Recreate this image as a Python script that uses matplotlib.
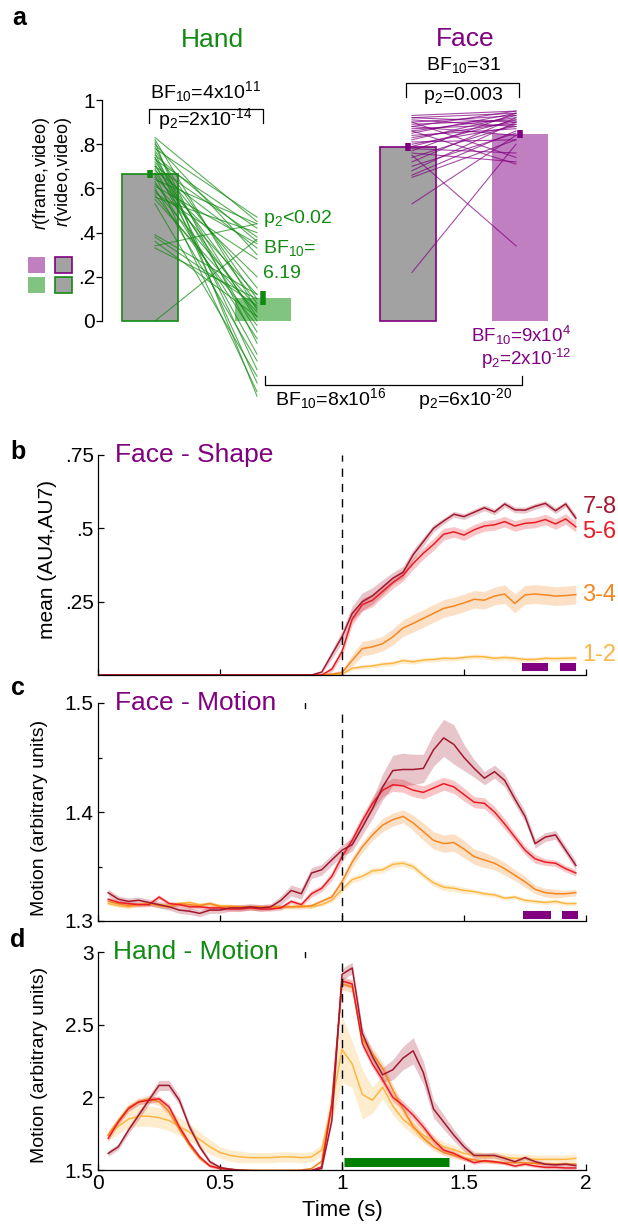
import numpy as np
import matplotlib
matplotlib.use("Agg")
import matplotlib.pyplot as plt
from matplotlib.patches import Rectangle

plt.rcParams['font.family'] = ['Liberation Sans', 'DejaVu Sans']
plt.rcParams['mathtext.fontset'] = 'custom'
plt.rcParams['mathtext.rm'] = 'Liberation Sans'
plt.rcParams['mathtext.it'] = 'Liberation Sans:italic'
plt.rcParams['mathtext.default'] = 'regular'

# ---------------- data: panel a ----------------
bar_means = [0.665, 0.104, 0.787, 0.846]   # hand frame, hand video, face frame, face video
bar_sem = [0.018, 0.03, 0.018, 0.018]
hand_frame = [0.83, 0.82, 0.81, 0.80, 0.79, 0.78, 0.77, 0.76, 0.75, 0.74, 0.74, 0.73, 0.72,
              0.71, 0.70, 0.70, 0.69, 0.68, 0.67, 0.66, 0.65, 0.64, 0.63, 0.62, 0.61, 0.60,
              0.59, 0.58, 0.57, 0.56, 0.55, 0.53, 0.39, 0.38, 0.36, 0.34, 0.33, 0.00]
hand_video = [0.45, 0.05, -0.34, 0.30, -0.10, 0.47, 0.10, -0.22, 0.36, 0.0, -0.28, 0.42, 0.15,
              -0.05, 0.38, 0.08, -0.15, 0.33, 0.02, -0.32, 0.20, 0.44, -0.08, 0.12, 0.35, -0.18,
              0.06, 0.28, -0.02, 0.40, 0.04, -0.25, 0.12, 0.07, 0.02, 0.44, 0.10, 0.37]
face_frame = [0.93, 0.92, 0.92, 0.91, 0.90, 0.90, 0.89, 0.88, 0.88, 0.87, 0.86, 0.86, 0.85, 0.84,
              0.83, 0.82, 0.81, 0.80, 0.79, 0.78, 0.77, 0.76, 0.75, 0.74, 0.72, 0.70, 0.68, 0.66,
              0.65, 0.53, 0.22]
face_video = [0.95, 0.90, 0.94, 0.88, 0.93, 0.74, 0.91, 0.95, 0.84, 0.89, 0.92, 0.71, 0.94, 0.87,
              0.90, 0.93, 0.82, 0.88, 0.91, 0.76, 0.94, 0.72, 0.34, 0.89, 0.92, 0.85, 0.90, 0.86,
              0.82, 0.84, 0.80]

# ---------------- data: panels b-d ----------------
levels = ['1-2', '3-4', '5-6', '7-8']
t_b = np.arange(0, 48) / 24
t_cd = np.arange(1, 48) / 24

shape_78 = [0.0] * 22 + [0.01, 0.07, 0.13, 0.21, 0.25, 0.27, 0.30, 0.33, 0.35, 0.41, 0.455, 0.50, 0.525,
                         0.548, 0.54, 0.555, 0.57, 0.556, 0.583, 0.563, 0.562, 0.575, 0.585, 0.56, 0.583, 0.535]
shape_56 = [0.0] * 22 + [0.0, 0.02, 0.08, 0.19, 0.24, 0.255, 0.285, 0.315, 0.34, 0.38, 0.415, 0.445, 0.48,
                         0.488, 0.477, 0.495, 0.508, 0.512, 0.523, 0.508, 0.517, 0.52, 0.53, 0.515, 0.532, 0.505]
shape_34 = [0.0] * 22 + [0.0, 0.003, 0.008, 0.05, 0.09, 0.096, 0.107, 0.13, 0.16, 0.176, 0.193, 0.21, 0.227,
                         0.235, 0.246, 0.258, 0.255, 0.269, 0.276, 0.244, 0.273, 0.276, 0.273, 0.269, 0.271, 0.274]
shape_12 = [0.0] * 22 + [0.0, 0.0, 0.003, 0.023, 0.028, 0.031, 0.037, 0.04, 0.049, 0.045, 0.051, 0.053, 0.057,
                         0.056, 0.06, 0.063, 0.062, 0.057, 0.06, 0.057, 0.053, 0.053, 0.057, 0.056, 0.057, 0.058]
shape_sem_78 = [0.0] * 22 + [0.005, 0.015, 0.02, 0.025, 0.03, 0.028, 0.025, 0.02, 0.02, 0.018, 0.015, 0.012, 0.01,
                             0.01, 0.01, 0.01, 0.01, 0.01, 0.01, 0.01, 0.01, 0.01, 0.01, 0.01, 0.01, 0.012]
shape_sem_56 = [0.0] * 22 + [0.003, 0.01, 0.015, 0.02, 0.022, 0.022, 0.02, 0.02, 0.02, 0.02, 0.02, 0.02, 0.02,
                             0.018, 0.018, 0.018, 0.018, 0.018, 0.018, 0.018, 0.018, 0.018, 0.018, 0.018, 0.018, 0.018]
shape_sem_34 = [0.0] * 22 + [0.002, 0.005, 0.01, 0.02, 0.025, 0.025, 0.025, 0.028, 0.028, 0.03, 0.03, 0.03, 0.03,
                             0.03, 0.03, 0.03, 0.03, 0.03, 0.032, 0.032, 0.032, 0.032, 0.032, 0.032, 0.032, 0.032]
shape_sem_12 = [0.0] * 22 + [0.001, 0.002, 0.003, 0.006, 0.007, 0.007, 0.008, 0.008, 0.008, 0.008, 0.008, 0.008,
                             0.008, 0.008, 0.008, 0.008, 0.008, 0.008, 0.008, 0.008, 0.008, 0.008, 0.008, 0.008,
                             0.008, 0.008]

fmot_78 = [1.326, 1.320, 1.318, 1.319, 1.317, 1.315, 1.313, 1.310, 1.309, 1.307, 1.310, 1.310, 1.312, 1.312,
           1.313, 1.312, 1.313, 1.319, 1.328, 1.325, 1.344, 1.347, 1.356, 1.365, 1.370, 1.386, 1.403, 1.423,
           1.438, 1.439, 1.439, 1.440, 1.457, 1.468, 1.462, 1.450, 1.440, 1.431, 1.437, 1.429, 1.412, 1.396,
           1.371, 1.377, 1.379, 1.365, 1.351]
fmot_56 = [1.320, 1.317, 1.316, 1.315, 1.315, 1.322, 1.316, 1.315, 1.313, 1.313, 1.312, 1.312, 1.311, 1.311,
           1.312, 1.311, 1.311, 1.312, 1.318, 1.315, 1.325, 1.330, 1.341, 1.359, 1.374, 1.392, 1.408, 1.420,
           1.425, 1.424, 1.420, 1.418, 1.422, 1.426, 1.423, 1.416, 1.409, 1.408, 1.400, 1.389, 1.377, 1.365,
           1.357, 1.354, 1.353, 1.348, 1.344]
fmot_34 = [1.318, 1.316, 1.314, 1.315, 1.316, 1.314, 1.313, 1.316, 1.315, 1.314, 1.316, 1.313, 1.313, 1.313,
           1.313, 1.313, 1.313, 1.313, 1.313, 1.313, 1.314, 1.318, 1.322, 1.336, 1.354, 1.368, 1.379, 1.388,
           1.393, 1.396, 1.390, 1.382, 1.374, 1.371, 1.372, 1.366, 1.359, 1.356, 1.353, 1.348, 1.342, 1.336,
           1.329, 1.326, 1.325, 1.325, 1.326]
fmot_12 = [1.316, 1.314, 1.313, 1.315, 1.316, 1.315, 1.314, 1.316, 1.317, 1.315, 1.316, 1.314, 1.314, 1.313,
           1.313, 1.313, 1.313, 1.313, 1.313, 1.314, 1.313, 1.315, 1.319, 1.329, 1.338, 1.341, 1.346, 1.347,
           1.352, 1.353, 1.350, 1.342, 1.335, 1.331, 1.330, 1.328, 1.327, 1.325, 1.324, 1.321, 1.322, 1.319,
           1.318, 1.317, 1.318, 1.316, 1.316]
fmot_sem_78 = [0.003] * 17 + [0.004, 0.005, 0.005, 0.005, 0.005, 0.005, 0.005, 0.006, 0.007, 0.009,
                              0.012, 0.014, 0.015, 0.014, 0.013, 0.015, 0.017, 0.018, 0.012,
                              0.008, 0.006, 0.006, 0.006, 0.005, 0.005, 0.004, 0.004, 0.004, 0.004, 0.004]
fmot_sem_56 = [0.002] * 20 + [0.003, 0.003, 0.004, 0.005, 0.005, 0.005, 0.006, 0.006, 0.006, 0.006, 0.006,
                              0.006, 0.006, 0.006, 0.006, 0.006, 0.005, 0.005, 0.005, 0.005, 0.004, 0.004,
                              0.004, 0.003, 0.003, 0.003, 0.003]
fmot_sem_34 = [0.002] * 22 + [0.003, 0.004, 0.005, 0.005, 0.005, 0.006, 0.006, 0.006, 0.007, 0.008, 0.008,
                              0.008, 0.008, 0.008, 0.007, 0.007, 0.006, 0.006, 0.005, 0.005, 0.004, 0.004,
                              0.004, 0.003, 0.003]
fmot_sem_12 = [0.0015] * 23 + [0.003] * 13 + [0.002] * 11

hmot_78 = [1.614, 1.660, 1.774, 1.877, 1.980, 2.082, 2.082, 1.980, 1.797, 1.660, 1.557, 1.518, 1.505, 1.498,
           1.496, 1.495, 1.495, 1.495, 1.495, 1.495, 1.497, 1.510, 1.840, 2.846, 2.890, 2.440, 2.280, 2.155,
           2.190, 2.270, 2.320, 2.170, 1.920, 1.830, 1.740, 1.660, 1.600, 1.600, 1.600, 1.580, 1.557, 1.585,
           1.557, 1.540, 1.535, 1.540, 1.530]
hmot_56 = [1.717, 1.831, 1.922, 1.968, 1.980, 1.990, 1.934, 1.797, 1.683, 1.591, 1.527, 1.511, 1.505, 1.497,
           1.495, 1.495, 1.495, 1.495, 1.495, 1.495, 1.496, 1.523, 1.957, 2.800, 2.780, 2.370, 2.230, 2.120,
           2.000, 1.945, 1.877, 1.797, 1.706, 1.637, 1.614, 1.580, 1.550, 1.564, 1.557, 1.546, 1.527, 1.540,
           1.527, 1.518, 1.518, 1.514, 1.514]
hmot_34 = [1.740, 1.840, 1.930, 1.970, 1.990, 1.970, 1.900, 1.780, 1.670, 1.580, 1.530, 1.510, 1.505, 1.500,
           1.498, 1.498, 1.498, 1.498, 1.498, 1.500, 1.510, 1.560, 1.950, 2.780, 2.760, 2.400, 2.300, 2.200,
           2.050, 1.920, 1.800, 1.720, 1.660, 1.620, 1.600, 1.580, 1.570, 1.560, 1.555, 1.550, 1.550, 1.550,
           1.545, 1.540, 1.540, 1.540, 1.540]
hmot_12 = [1.740, 1.800, 1.850, 1.870, 1.870, 1.860, 1.840, 1.800, 1.760, 1.710, 1.660, 1.620, 1.600, 1.590,
           1.585, 1.585, 1.585, 1.590, 1.590, 1.585, 1.590, 1.637, 1.950, 2.330, 2.230, 2.020, 1.980, 2.070,
           1.940, 1.850, 1.790, 1.740, 1.700, 1.660, 1.640, 1.614, 1.603, 1.587, 1.596, 1.587, 1.580, 1.580,
           1.573, 1.573, 1.573, 1.573, 1.580]
hmot_sem_78 = [0.02, 0.02, 0.025, 0.03, 0.03, 0.035, 0.035, 0.03, 0.025, 0.02, 0.015, 0.01, 0.01, 0.008,
               0.008, 0.008, 0.008, 0.008, 0.008, 0.008, 0.008, 0.01, 0.02, 0.04, 0.04, 0.04, 0.035, 0.05,
               0.07, 0.08, 0.09, 0.08, 0.06, 0.05, 0.04, 0.03, 0.02, 0.02, 0.02, 0.02, 0.015, 0.015, 0.015,
               0.015, 0.015, 0.015, 0.015]
hmot_sem_56 = [0.02, 0.02, 0.02, 0.02, 0.02, 0.02, 0.02, 0.02, 0.015, 0.012, 0.01, 0.008, 0.006, 0.005,
               0.005, 0.005, 0.005, 0.005, 0.005, 0.005, 0.005, 0.008, 0.02, 0.03, 0.03, 0.03, 0.03, 0.03,
               0.03, 0.03, 0.03, 0.03, 0.025, 0.02, 0.02, 0.015, 0.012, 0.012, 0.012, 0.01, 0.01, 0.01,
               0.01, 0.01, 0.01, 0.01, 0.01]
hmot_sem_34 = [0.025, 0.025, 0.025, 0.025, 0.025, 0.025, 0.025, 0.02, 0.02, 0.015, 0.01, 0.008, 0.006, 0.005,
               0.005, 0.005, 0.005, 0.005, 0.005, 0.005, 0.005, 0.01, 0.03, 0.04, 0.04, 0.04, 0.04, 0.04,
               0.04, 0.035, 0.03, 0.03, 0.025, 0.02, 0.02, 0.015, 0.012, 0.012, 0.012, 0.01, 0.01, 0.01,
               0.01, 0.01, 0.01, 0.01, 0.01]
hmot_sem_12 = [0.04, 0.05, 0.06, 0.07, 0.07, 0.07, 0.07, 0.06, 0.06, 0.05, 0.05, 0.04, 0.04, 0.04, 0.035,
               0.035, 0.035, 0.035, 0.035, 0.035, 0.035, 0.04, 0.12, 0.23, 0.16, 0.17, 0.09, 0.08, 0.06,
               0.05, 0.05, 0.04, 0.04, 0.035, 0.03, 0.03, 0.03, 0.03, 0.03, 0.03, 0.03, 0.03, 0.03, 0.03,
               0.03, 0.03, 0.03]

sig_face_shape = [(1.738, 1.845), (1.893, 1.959)]
sig_face_motion = [(1.743, 1.855), (1.90, 1.968)]
sig_hand_motion = [(1.008, 1.44)]

# ---------------- styles ----------------
GREEN = '#128a12'
PURPLE = '#800080'
LGREEN = '#80c480'
LPURPLE = '#c07fc0'
GREY = '#a2a2a2'
level_colors = {'1-2': '#fdb643', '3-4': '#f7861f', '5-6': '#eb1c24', '7-8': '#a3182f'}

W, H = 618, 1226
fig = plt.figure(figsize=(W / 100, H / 100), dpi=100)


def add_ax(x0, y0, x1, y1):
    return fig.add_axes([x0 / W, 1 - y1 / H, (x1 - x0) / W, (y1 - y0) / H])


def ftext(x, y, s, **kw):
    fig.text(x / W, 1 - y / H, s, **kw)


# ================= panel a =================
axa = add_ax(0, 20, W, 412)
axa.set_xlim(0, W)
axa.set_ylim(-91 / 221, 301 / 221)
for sp in ['top', 'right', 'bottom']:
    axa.spines[sp].set_visible(False)
axa.spines['left'].set_position(('data', 102))
axa.spines['left'].set_bounds(0, 1)
axa.spines['left'].set_linewidth(0.9)
axa.set_xticks([])
axa.set_yticks([0, 0.2, 0.4, 0.6, 0.8, 1])
axa.set_yticklabels(['0', '.2', '.4', '.6', '.8', '1'])
axa.tick_params(axis='y', direction='out', length=4, width=0.9, labelsize=15, pad=1)

bar_x = [150, 263, 408, 520]
bw = 56
axa.bar(bar_x[0], bar_means[0], bw, color=GREY, edgecolor=GREEN, linewidth=1.2, zorder=1)
axa.bar(bar_x[1], bar_means[1], bw, color=LGREEN, linewidth=0, zorder=1)
axa.bar(bar_x[2], bar_means[2], bw, color=GREY, edgecolor=PURPLE, linewidth=1.2, zorder=1)
axa.bar(bar_x[3], bar_means[3], bw, color=LPURPLE, linewidth=0, zorder=1)

for s, e in zip(hand_frame, hand_video):
    axa.plot([155, 257], [s, e], color=GREEN, lw=0.8, alpha=0.7, zorder=2)
for s, e in zip(face_frame, face_video):
    axa.plot([412, 516], [s, e], color=PURPLE, lw=0.8, alpha=0.7, zorder=2)

for x, m, s, c in zip(bar_x, bar_means, bar_sem, [GREEN, GREEN, PURPLE, PURPLE]):
    axa.plot([x, x], [m - s, m + s], color=c, lw=4, solid_capstyle='butt', zorder=3)

# brackets
axa.plot([149, 149, 263, 263], [0.896, 0.96, 0.96, 0.896], color='k', lw=0.9)
axa.plot([406, 406, 519, 519], [1.014, 1.077, 1.077, 1.014], color='k', lw=0.9)
axa.plot([265, 265, 522, 522], [-0.249, -0.29, -0.29, -0.249], color='k', lw=0.9)

fs = 14
axa.text(206, 1.036, r'BF$_{10}$=4x10$^{11}$', ha='center', va='center', fontsize=fs)
axa.text(205, 0.915, r'p$_{2}$=2x10$^{\text{-}14}$', ha='center', va='center', fontsize=fs)
axa.text(463, 1.158, r'BF$_{10}$=31', ha='center', va='center', fontsize=fs)
axa.text(463, 1.02, r'p$_{2}$=0.003', ha='center', va='center', fontsize=fs)
axa.text(212, 1.27, 'Hand', ha='center', va='center', fontsize=19, color=GREEN)
axa.text(465, 1.276, 'Face', ha='center', va='center', fontsize=19, color=PURPLE)
axa.text(263, 0.466, r'p$_{2}$<0.02', ha='left', va='center', fontsize=fs, color=GREEN)
axa.text(263, 0.33, r'BF$_{10}$=', ha='left', va='center', fontsize=fs, color=GREEN)
axa.text(263, 0.217, '6.19', ha='left', va='center', fontsize=fs, color=GREEN)
axa.text(571, -0.066, r'BF$_{10}$=9x10$^{4}$', ha='right', va='center', fontsize=13.5, color=PURPLE)
axa.text(571, -0.172, r'p$_{2}$=2x10$^{\text{-}12}$', ha='right', va='center', fontsize=13.5, color=PURPLE)
axa.text(331, -0.352, r'BF$_{10}$=8x10$^{16}$', ha='center', va='center', fontsize=fs)
axa.text(465, -0.352, r'p$_{2}$=6x10$^{\text{-}20}$', ha='center', va='center', fontsize=fs)

# legend squares and rotated labels
sq_h = 16 / 221
axa.add_patch(Rectangle((28, 0.217), 17, sq_h, facecolor=LPURPLE, edgecolor='none', clip_on=False))
axa.add_patch(Rectangle((55, 0.217), 17, sq_h, facecolor=GREY, edgecolor=PURPLE, lw=1.2, clip_on=False))
axa.add_patch(Rectangle((28, 0.127), 17, sq_h, facecolor=LGREEN, edgecolor='none', clip_on=False))
axa.add_patch(Rectangle((55, 0.127), 17, sq_h, facecolor=GREY, edgecolor=GREEN, lw=1.2, clip_on=False))
ftext(41, 174, r'$\mathit{r}$(frame,video)', rotation=90, ha='center', va='center', fontsize=13)
ftext(64, 172, r'$\mathit{r}$(video,video)', rotation=90, ha='center', va='center', fontsize=13)
ftext(19, 18, 'a', fontsize=18, fontweight='bold', ha='center', va='center')


# ================= panels b-d =================
def style_time_axis(ax, show_labels):
    ax.spines['top'].set_visible(False)
    ax.spines['right'].set_visible(False)
    for sp in ['left', 'bottom']:
        ax.spines[sp].set_linewidth(0.9)
    ax.set_xlim(0, 2)
    ax.set_xticks([0, 0.5, 1, 1.5, 2])
    if show_labels:
        ax.set_xticklabels(['0', '0.5', '1', '1.5', '2'])
    else:
        ax.set_xticklabels([])
    ax.tick_params(direction='in', length=4, width=0.9, labelsize=15, pad=3)
    ax.tick_params(which='minor', direction='in', length=3, width=0.9)


def draw_curves(ax, t, means, sems):
    for lev in levels:
        m = np.array(means[lev])
        s = np.array(sems[lev])
        c = level_colors[lev]
        ax.fill_between(t, m - s, m + s, color=c, alpha=0.25, lw=0)
        ax.plot(t, m, color=c, lw=1.1)


# panel b
axb = add_ax(98, 455, 586, 675)
draw_curves(axb, t_b,
            {'1-2': shape_12, '3-4': shape_34, '5-6': shape_56, '7-8': shape_78},
            {'1-2': shape_sem_12, '3-4': shape_sem_34, '5-6': shape_sem_56, '7-8': shape_sem_78})
axb.set_ylim(0, 0.75)
axb.set_yticks([0.25, 0.5, 0.75])
axb.set_yticklabels(['.25', '.5', '.75'])
style_time_axis(axb, False)
axb.axvline(1, color='k', lw=1, ls=(0, (6, 5)))
for a0, a1 in sig_face_shape:
    axb.plot([a0, a1], [0.027, 0.027], color=PURPLE, lw=5.8, solid_capstyle='butt')
for lev, y in zip(['7-8', '5-6', '3-4', '1-2'], [0.573, 0.487, 0.273, 0.068]):
    axb.text(1.985, y, lev, color=level_colors[lev], fontsize=17, ha='left', va='center', clip_on=False)
ftext(115, 455, 'Face - Shape', color=PURPLE, fontsize=19, ha='left', va='center')
ftext(48, 560, 'mean (AU4,AU7)', rotation=90, ha='center', va='center', fontsize=15)
ftext(18, 452, 'b', fontsize=18, fontweight='bold', ha='center', va='center')

# panel c
axc = add_ax(98, 703, 586, 921)
draw_curves(axc, t_cd,
            {'1-2': fmot_12, '3-4': fmot_34, '5-6': fmot_56, '7-8': fmot_78},
            {'1-2': fmot_sem_12, '3-4': fmot_sem_34, '5-6': fmot_sem_56, '7-8': fmot_sem_78})
axc.set_ylim(1.3, 1.5)
axc.set_yticks([1.3, 1.4, 1.5])
axc.set_yticklabels(['1.3', '1.4', '1.5'])
axc.set_yticks([1.35, 1.45], minor=True)
style_time_axis(axc, False)
axc.axvline(1, ymax=0.96, color='k', lw=1, ls=(0, (6, 5)))
axc.axvline(0.85, ymin=0.977, ymax=1.0, color='k', lw=1)
for a0, a1 in sig_face_motion:
    axc.plot([a0, a1], [1.3055, 1.3055], color=PURPLE, lw=5.8, solid_capstyle='butt')
ftext(115, 703, 'Face - Motion', color=PURPLE, fontsize=19, ha='left', va='center')
ftext(40, 818, 'Motion (arbitrary units)', rotation=90, ha='center', va='center', fontsize=14)
ftext(18, 688, 'c', fontsize=18, fontweight='bold', ha='center', va='center')

# panel d
axd = add_ax(98, 952, 586, 1170)
draw_curves(axd, t_cd,
            {'1-2': hmot_12, '3-4': hmot_34, '5-6': hmot_56, '7-8': hmot_78},
            {'1-2': hmot_sem_12, '3-4': hmot_sem_34, '5-6': hmot_sem_56, '7-8': hmot_sem_78})
axd.set_ylim(1.5, 3.0)
axd.set_yticks([1.5, 2, 2.5, 3])
axd.set_yticklabels(['1.5', '2', '2.5', '3'])
style_time_axis(axd, True)
axd.axvline(1, ymax=0.968, color='k', lw=1, ls=(0, (6, 5)))
axd.axvline(0.85, ymin=0.978, ymax=1.0, color='k', lw=1)
for a0, a1 in sig_hand_motion:
    axd.plot([a0, a1], [1.558, 1.558], color='#008000', lw=6.5, solid_capstyle='butt')
axd.set_xlabel('Time (s)', fontsize=16, labelpad=5)
ftext(113, 952, 'Hand - Motion', color=GREEN, fontsize=19, ha='left', va='center')
ftext(40, 1065, 'Motion (arbitrary units)', rotation=90, ha='center', va='center', fontsize=14)
ftext(18, 940, 'd', fontsize=18, fontweight='bold', ha='center', va='center')

fig.savefig('out.png', dpi=100)
